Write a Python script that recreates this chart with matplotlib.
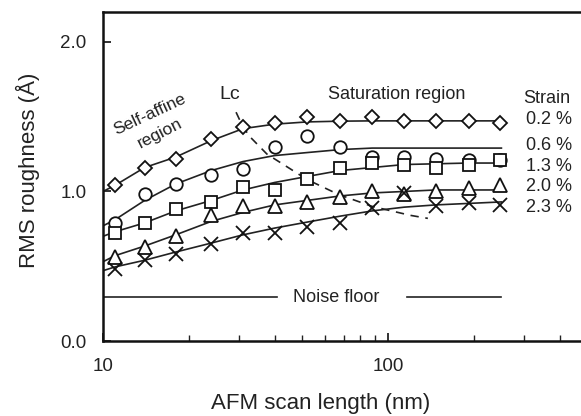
import numpy as np
import matplotlib
matplotlib.use('Agg')
import matplotlib.pyplot as plt

plt.rcParams['font.family'] = ['Liberation Sans', 'DejaVu Sans']
plt.rcParams['text.color'] = '#222222'
plt.rcParams['xtick.color'] = '#222222'
plt.rcParams['ytick.color'] = '#222222'

# scan lengths (nm) shared by all strain series
scan_len = [11, 14, 18, 24, 31, 40, 52, 68, 88, 114, 147, 192, 247]

# measured RMS roughness (A)
rms_02 = [1.04, 1.16, 1.22, 1.35, 1.43, 1.46, 1.50, 1.47, 1.50, 1.47, 1.47, 1.47, 1.46]
rms_06 = [0.79, 0.98, 1.05, 1.11, 1.15, 1.30, 1.37, 1.30, 1.23, 1.23, 1.22, 1.21, 1.21]
rms_13 = [0.72, 0.79, 0.88, 0.93, 1.03, 1.01, 1.08, 1.16, 1.19, 1.18, 1.16, 1.18, 1.21]
rms_20 = [0.56, 0.63, 0.70, 0.84, 0.90, 0.90, 0.93, 0.96, 1.00, 0.98, 1.00, 1.02, 1.04]
rms_23 = [0.48, 0.54, 0.58, 0.65, 0.72, 0.72, 0.76, 0.79, 0.89, 0.99, 0.90, 0.92, 0.91]

# fitted curves
fit_x = [10, 11, 14, 18, 24, 31, 40, 52, 68, 88, 114, 147, 192, 250]
fit_02 = [1.00, 1.04, 1.16, 1.23, 1.34, 1.42, 1.45, 1.465, 1.47, 1.472, 1.472, 1.472, 1.472, 1.472]
fit_06 = [0.77, 0.81, 0.94, 1.05, 1.14, 1.20, 1.24, 1.26, 1.28, 1.29, 1.29, 1.29, 1.29, 1.29]
fit_13 = [0.70, 0.73, 0.79, 0.87, 0.94, 1.01, 1.06, 1.10, 1.14, 1.16, 1.18, 1.185, 1.19, 1.19]
fit_20 = [0.53, 0.57, 0.635, 0.71, 0.80, 0.86, 0.91, 0.94, 0.97, 0.99, 1.00, 1.01, 1.01, 1.01]
fit_23 = [0.47, 0.495, 0.54, 0.595, 0.655, 0.71, 0.755, 0.795, 0.835, 0.87, 0.895, 0.91, 0.92, 0.93]

# correlation length Lc (dashed)
lc_x = [29.3, 31, 33, 37.6, 52, 67, 88, 120, 138]
lc_y = [1.53, 1.43, 1.36, 1.25, 1.08, 0.98, 0.90, 0.84, 0.82]

noise = 0.294
strains = ['0.2 %', '0.6 %', '1.3 %', '2.0 %', '2.3 %']
label_y = [1.478, 1.304, 1.164, 1.030, 0.896]

xmax = 600
fig = plt.figure(figsize=(5.81, 4.16), dpi=100)
w = 285 * np.log10(xmax / 10) / 581
ax = fig.add_axes([103 / 581, 1 - 341 / 416, w, 329 / 416])
ax.set_xscale('log')
ax.set_xlim(10, xmax)
ax.set_ylim(0, 2.2)

for fy in [fit_02, fit_06, fit_13, fit_20, fit_23]:
    ax.plot(fit_x, fy, color='#222222', lw=1.2, zorder=2)
ax.plot(lc_x, lc_y, color='#222222', lw=1.2, dashes=(5, 4), zorder=2)

ax.plot([10, 40.8], [noise, noise], color='#222222', lw=1.2)
ax.plot([116.5, 250], [noise, noise], color='#222222', lw=1.2)
ax.text(66, noise, 'Noise floor', fontsize=13, ha='center', va='center')

mk = dict(ls='none', mfc='white', mec='#111111', mew=1.3, zorder=3)
ax.plot(scan_len, rms_02, marker='D', ms=7.5, **mk)
ax.plot(scan_len, rms_06, marker='o', ms=9, **mk)
ax.plot(scan_len, rms_13, marker='s', ms=8.5, **mk)
ax.plot(scan_len, rms_20, marker='^', ms=10, **mk)
ax.plot(scan_len, rms_23, marker='x', ms=10, **mk)

ax.text(107, 1.645, 'Saturation region', fontsize=13, ha='center', va='center')
ax.text(361, 1.62, 'Strain', fontsize=13, ha='center', va='center')
for s, ly in zip(strains, label_y):
    ax.text(305, ly, s, fontsize=13, ha='left', va='center')
ax.text(27.9, 1.645, 'Lc', fontsize=14, ha='center', va='center')
ax.text(14.6, 1.518, 'Self-affine', fontsize=12.5, rotation=25, ha='center', va='center')
ax.text(15.9, 1.388, 'region', fontsize=12.5, rotation=27, ha='center', va='center')

ax.set_yticks([0, 1, 2])
ax.set_yticklabels(['0.0', '1.0', '2.0'])
ax.set_xticks([10, 100])
ax.set_xticklabels(['10', '100'])
ax.tick_params(axis='both', which='major', direction='in', length=6, width=1.3,
               labelsize=13.5, pad=12)
ax.tick_params(axis='x', which='minor', direction='in', length=4, width=1.0)
ax.xaxis.set_minor_formatter(matplotlib.ticker.NullFormatter())
for sp in ax.spines.values():
    sp.set_linewidth(1.8)
    sp.set_color('#111111')

fig.text(28 / 581, 1 - 170 / 416, 'RMS roughness (\u00c5)', fontsize=16,
         rotation=90, ha='center', va='center')
fig.text(321 / 581, 1 - 403 / 416, 'AFM scan length (nm)', fontsize=16,
         ha='center', va='center')

fig.savefig('out.png', dpi=100)
